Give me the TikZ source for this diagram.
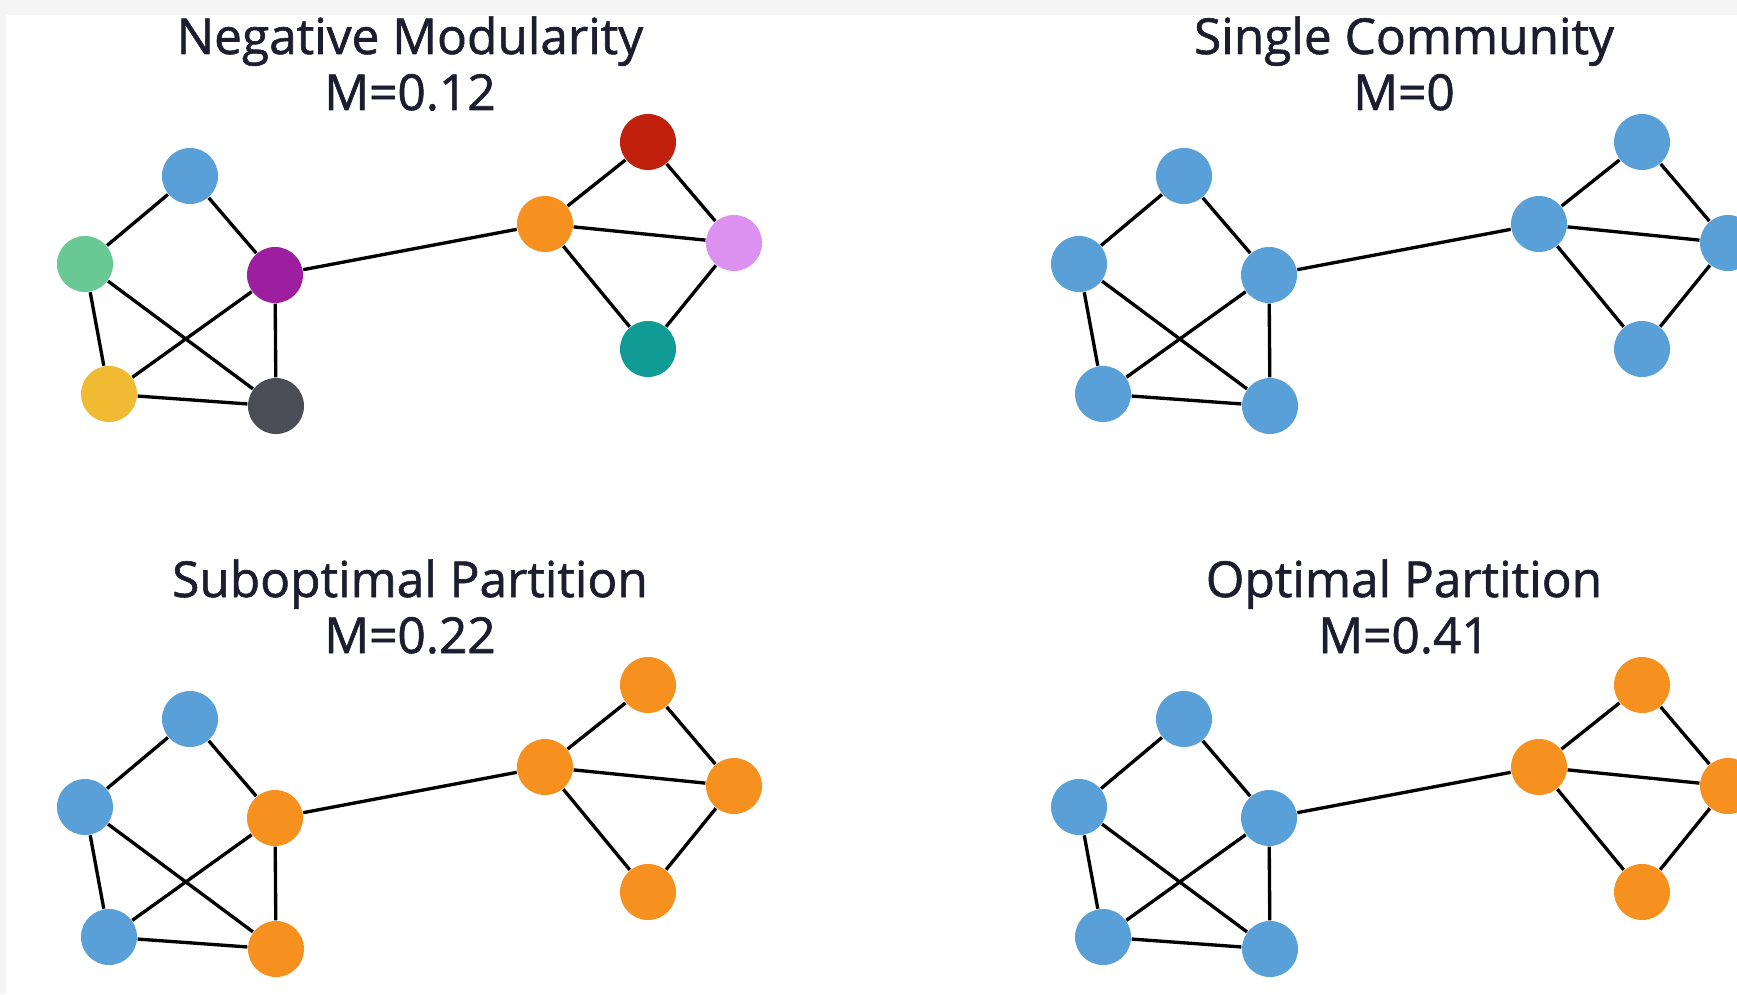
\documentclass[tikz,border=0pt]{standalone}
\usepackage{fontspec}
\setmainfont{Open Sans}
\newfontfamily\titlefont{Open Sans}[FakeBold=1.2]
\usetikzlibrary{calc}

\definecolor{titlecol}{RGB}{28,30,48}
\definecolor{commblue}{RGB}{88,160,215}
\definecolor{commorange}{RGB}{246,144,30}
\definecolor{nodegreen}{RGB}{106,200,148}
\definecolor{nodepurple}{RGB}{158,30,160}
\definecolor{nodeyellow}{RGB}{240,186,50}
\definecolor{nodedark}{RGB}{74,77,86}
\definecolor{nodered}{RGB}{192,32,12}
\definecolor{nodelilac}{RGB}{220,145,240}
\definecolor{nodeteal}{RGB}{16,156,148}

\tikzset{
  vtx/.style={circle, inner sep=0pt, minimum size=0.56cm},
  edge/.style={line width=0.95pt, black},
  ttl/.style={anchor=base, text=titlecol, font=\titlefont\fontsize{14.1}{16}\selectfont}
}

% one panel: #1 prefix, #2 title, #3 value of M
\newcommand{\modgraph}[3]{
  \node[ttl] (#1t) at (410,54) {#2};
  \node[ttl] (#1m) at (410,110) {M=#3};

  \node[vtx, fill=cA] (#1a) at (190,176) {};
  \node[vtx, fill=cB] (#1b) at (85,264) {};
  \node[vtx, fill=cC] (#1c) at (275,275) {};
  \node[vtx, fill=cD] (#1d) at (109,394) {};
  \node[vtx, fill=cE] (#1e) at (276,406) {};
  \node[vtx, fill=cF] (#1f) at (545,224) {};
  \node[vtx, fill=cG] (#1g) at (648,142) {};
  \node[vtx, fill=cH] (#1h) at (734,243) {};
  \node[vtx, fill=cI] (#1i) at (648,349) {};

  \foreach \u/\v in {a/b,a/c,b/d,b/e,c/d,c/e,d/e,c/f,f/g,f/h,f/i,g/h,h/i}
    \draw[edge] (#1\u) -- (#1\v);
}

\begin{document}
\begin{tikzpicture}[x=0.01cm, y=-0.01cm]
  %%%%% FRAME %%%%%
  \useasboundingbox (0,0) rectangle (1737,994);
  \clip (0,0) rectangle (1737,994);
  \fill[black!4] (0,0) rectangle (1737,994);
  \fill[white] (6,15) rectangle (1737,994);

  %%%%% NEGATIVE MODULARITY %%%%%
  \colorlet{cA}{commblue}\colorlet{cB}{nodegreen}\colorlet{cC}{nodepurple}
  \colorlet{cD}{nodeyellow}\colorlet{cE}{nodedark}\colorlet{cF}{commorange}
  \colorlet{cG}{nodered}\colorlet{cH}{nodelilac}\colorlet{cI}{nodeteal}
  \modgraph{n}{Negative Modularity}{0.12}

  %%%%% SINGLE COMMUNITY %%%%%
  \begin{scope}[shift={(994,0)}]
    \colorlet{cA}{commblue}\colorlet{cB}{commblue}\colorlet{cC}{commblue}
    \colorlet{cD}{commblue}\colorlet{cE}{commblue}\colorlet{cF}{commblue}
    \colorlet{cG}{commblue}\colorlet{cH}{commblue}\colorlet{cI}{commblue}
    \modgraph{s}{Single Community}{0}
  \end{scope}

  %%%%% SUBOPTIMAL PARTITION %%%%%
  \begin{scope}[shift={(0,543)}]
    \colorlet{cA}{commblue}\colorlet{cB}{commblue}\colorlet{cC}{commorange}
    \colorlet{cD}{commblue}\colorlet{cE}{commorange}\colorlet{cF}{commorange}
    \colorlet{cG}{commorange}\colorlet{cH}{commorange}\colorlet{cI}{commorange}
    \modgraph{u}{Suboptimal Partition}{0.22}
  \end{scope}

  %%%%% OPTIMAL PARTITION %%%%%
  \begin{scope}[shift={(994,543)}]
    \colorlet{cA}{commblue}\colorlet{cB}{commblue}\colorlet{cC}{commblue}
    \colorlet{cD}{commblue}\colorlet{cE}{commblue}\colorlet{cF}{commorange}
    \colorlet{cG}{commorange}\colorlet{cH}{commorange}\colorlet{cI}{commorange}
    \modgraph{o}{Optimal Partition}{0.41}
  \end{scope}
\end{tikzpicture}
\end{document}
